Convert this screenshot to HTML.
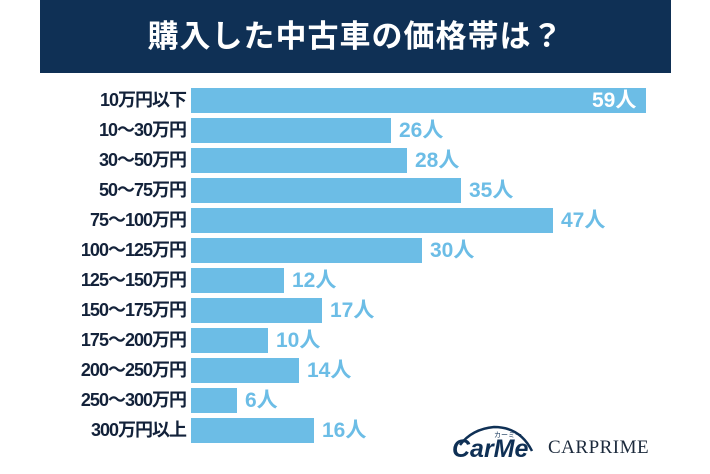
<!DOCTYPE html>
<html><head><meta charset="utf-8"><style>
body{margin:0;width:710px;height:474px;background:#fff;position:relative;overflow:hidden;font-family:"Liberation Sans","Noto Sans CJK JP",sans-serif}
.hd{position:absolute;left:40px;top:0;width:631px;height:73px;background:#0f3055;color:#fff;font-size:31px;font-weight:bold;text-align:center;line-height:73px;letter-spacing:1px}
.l{position:absolute;right:524px;font-size:18px;font-weight:bold;color:#13223a;height:25px;line-height:25px;white-space:nowrap;letter-spacing:-1px}
.b{position:absolute;left:191px;height:25px;background:#6cbde6}
.v{position:absolute;font-size:21px;font-weight:bold;color:#6cbde6;height:25px;line-height:25px}
</style></head><body>
<div class="hd">購入した中古車の価格帯は？</div>
<div id="c"></div>
<div style="position:absolute;left:452px;top:423px;width:88px;height:40px">
<svg width="88" height="40"><path d="M8 22 Q20 6 42 4 Q68 4 80 28" fill="none" stroke="#0f3055" stroke-width="2.5"/></svg>
<div style="position:absolute;left:0;top:12px;font-size:25px;font-weight:bold;color:#0f3055;font-style:italic">CarMe</div>
<div style="position:absolute;left:42px;top:7px;font-size:7px;color:#0f3055">カーミー</div>
</div>
<div style="position:absolute;left:548px;top:437px;font-family:'Liberation Serif',serif;font-size:19px;color:#1c2a3c;letter-spacing:0.5px">CARPRIME</div>
<script>
var d=[["10万円以下",59],["10～30万円",26],["30～50万円",28],["50～75万円",35],["75～100万円",47],["100～125万円",30],["125～150万円",12],["150～175万円",17],["175～200万円",10],["200～250万円",14],["250～300万円",6],["300万円以上",16]];
var h="";d.forEach(function(r,i){var t=88+i*30,w=Math.round(r[1]*7.71);
h+='<div class="l" style="top:'+t+'px">'+r[0]+'</div><div class="b" style="top:'+t+'px;width:'+w+'px"></div>';
if(i==0)h+='<div class="v" style="top:'+t+'px;left:'+(191+w-54)+'px;color:#fff">'+r[1]+'人</div>';
else h+='<div class="v" style="top:'+t+'px;left:'+(191+w+8)+'px">'+r[1]+'人</div>';});
document.getElementById("c").innerHTML=h;
</script>
</body></html>
